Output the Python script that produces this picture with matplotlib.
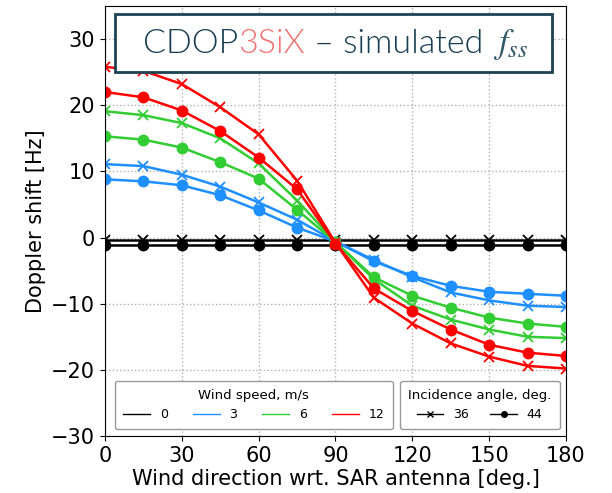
import numpy as np
import matplotlib
matplotlib.use('Agg')
import matplotlib.pyplot as plt
from matplotlib.lines import Line2D
from matplotlib.patches import Rectangle
from matplotlib.offsetbox import TextArea, HPacker, AnchoredOffsetbox

# wind direction wrt. SAR antenna [deg.]
direction = [0, 15, 30, 45, 60, 75, 90, 105, 120, 135, 150, 165, 180]

# Doppler shift [Hz], incidence 36 deg (x markers)
ws0_36 = [-0.3] * 13
ws3_36 = [11.1, 10.8, 9.5, 7.7, 5.3, 2.7, -0.6, -3.4, -6.0, -8.3, -9.5, -10.3, -10.5]
ws6_36 = [19.1, 18.5, 17.3, 15.0, 11.2, 5.6, -0.7, -6.3, -10.3, -12.4, -13.9, -15.0, -15.2]
ws12_36 = [25.8, 25.2, 23.2, 19.7, 15.6, 8.6, -0.8, -9.1, -13.0, -16.0, -18.0, -19.4, -19.8]

# Doppler shift [Hz], incidence 44 deg (dot markers)
ws0_44 = [-1.1] * 13
ws3_44 = [8.8, 8.5, 7.9, 6.4, 4.1, 1.5, -0.6, -3.6, -5.8, -7.3, -8.2, -8.5, -8.8]
ws6_44 = [15.3, 14.8, 13.6, 11.4, 8.9, 4.2, -0.7, -6.0, -8.8, -10.6, -12.1, -13.0, -13.5]
ws12_44 = [22.0, 21.2, 19.2, 16.1, 12.1, 7.3, -0.9, -7.7, -11.1, -13.9, -16.2, -17.4, -17.9]

wind_speeds = ['0', '3', '6', '12']
colors = ['black', '#1e8fff', '#32cd32', '#ff0000']
series_36 = [ws0_36, ws3_36, ws6_36, ws12_36]
series_44 = [ws0_44, ws3_44, ws6_44, ws12_44]

fig = plt.figure(figsize=(6.12, 4.93), dpi=100)
ax = fig.add_axes([0.1716, 0.1156, 0.7532, 0.8722])

for c, y36, y44 in zip(colors, series_36, series_44):
    ax.plot(direction, y36, color=c, lw=1.8, marker='x', ms=7, mew=1.3)
    ax.plot(direction, y44, color=c, lw=1.8, marker='o', ms=7.5)

ax.set_xlim(0, 180)
ax.set_ylim(-30, 35)
ax.set_xticks(np.arange(0, 181, 30))
ax.set_yticks(np.arange(-30, 31, 10))
ax.tick_params(labelsize=15)
ax.grid(True, linestyle=':', color='#b0b0b0', lw=1)
ax.set_xlabel('Wind direction wrt. SAR antenna [deg.]', fontsize=15, labelpad=2)
ax.set_ylabel('Doppler shift [Hz]', fontsize=15)

# title box
ax.add_patch(Rectangle((0.0217, 0.8465), 0.9479, 0.1345, transform=ax.transAxes,
                       facecolor='white', edgecolor='#1d4252', lw=2, zorder=5))
dark = '#173d50'
tp = dict(fontsize=24.5, family='Lato', fontweight=300)
parts = [TextArea('CDOP', textprops=dict(color=dark, **tp)),
         TextArea('3SiX', textprops=dict(color='#f07373', **tp)),
         TextArea(' \u2013 simulated ', textprops=dict(color=dark, **tp)),
         TextArea(r'$f_{ss}$', textprops=dict(color='#2f5868', fontsize=25, math_fontfamily='stix'))]
box = HPacker(children=parts, align='baseline', pad=0, sep=0)
anchored = AnchoredOffsetbox(loc='center', child=box, frameon=False, pad=0, borderpad=0,
                             bbox_to_anchor=(0.5, 0.912), bbox_transform=ax.transAxes)
anchored.zorder = 6
ax.add_artist(anchored)

# legends
speed_handles = [Line2D([], [], color=c, lw=1) for c in colors]
leg1 = ax.legend(speed_handles, wind_speeds, title='Wind speed, m/s', ncol=4,
                 loc='lower left', bbox_to_anchor=(0.021, 0.016), borderaxespad=0,
                 fontsize=9, title_fontsize=9.5, edgecolor='#999999', framealpha=1,
                 handlelength=2.15, handletextpad=0.8, columnspacing=2.0, borderpad=0.65)
ax.add_artist(leg1)
angle_handles = [Line2D([], [], color='black', lw=1, marker='x', ms=4),
                 Line2D([], [], color='black', lw=1, marker='o', ms=4)]
leg2 = ax.legend(angle_handles, ['36', '44'], title='Incidence angle, deg.', ncol=2,
                 loc='lower left', bbox_to_anchor=(0.64, 0.016), borderaxespad=0,
                 fontsize=9, title_fontsize=9.5, edgecolor='#999999', framealpha=1,
                 handlelength=2.1, handletextpad=0.8, columnspacing=1.7, borderpad=0.65)

fig.savefig('out.png', dpi=100)
